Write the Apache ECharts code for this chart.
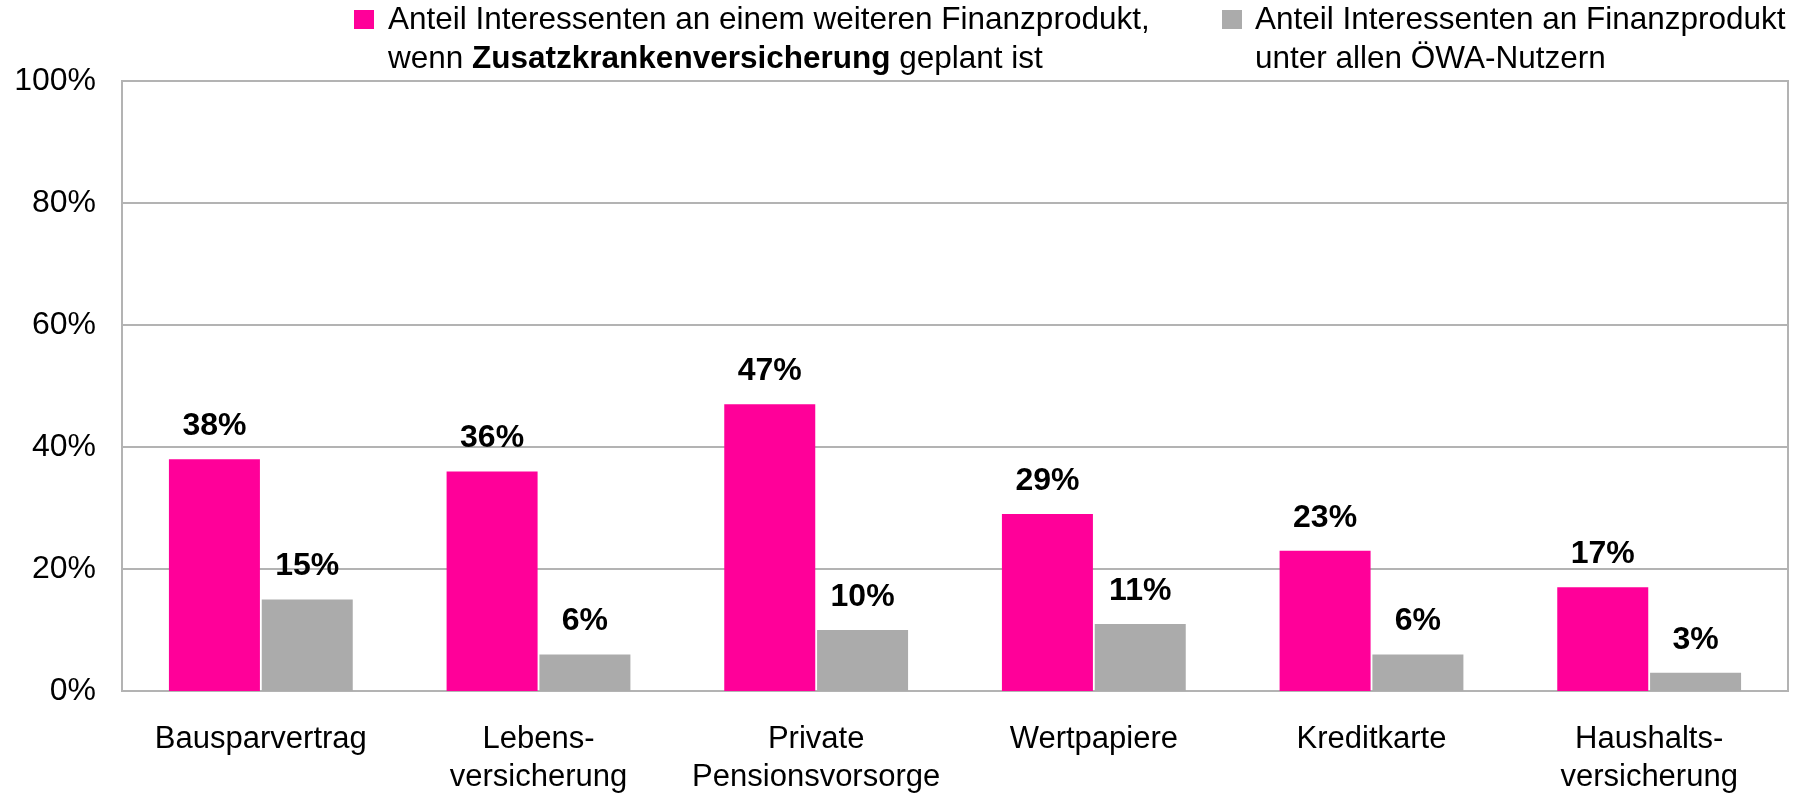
<!DOCTYPE html>
<html>
<head>
<meta charset="utf-8">
<title>Finanzprodukte</title>
<script src="https://cdn.jsdelivr.net/npm/echarts@6/dist/echarts.min.js"></script>
<style>
  html, body { margin: 0; padding: 0; background: #fff; }
  #chart { width: 1811px; height: 794px; }
</style>
</head>
<body>
<div id="chart"></div>
<script>
// Daten
const categories = ['Bausparvertrag', 'Lebens-\nversicherung', 'Private\nPensionsvorsorge', 'Wertpapiere', 'Kreditkarte', 'Haushalts-\nversicherung']
const zusatzKV = [38, 36, 47, 29, 23, 17]     // Anteil wenn Zusatzkrankenversicherung geplant
const alleNutzer = [15, 6, 10, 11, 6, 3]      // Anteil unter allen ÖWA-Nutzern
const yTicks = [0, 20, 40, 60, 80, 100]

const FONT = '"Liberation Sans", Arial, sans-serif'
const PINK = '#FF0099'
const GRAY = '#ABABAB'
const LINE = '#B3B3B3'

const chart = echarts.init(document.getElementById('chart'))

const option = {
    backgroundColor: '#fff',
    animation: false,
    textStyle: { fontFamily: FONT },
    grid: {
        left: 122, right: 23, top: 81, bottom: 103,
        outerBoundsMode: 'none', containLabel: false,
        show: true, borderColor: LINE, borderWidth: 2
    },
    // Legende als Grafik, damit das Quadrat an der ersten Zeile sitzt
    graphic: [
        { type: 'rect', left: 354, top: 10, shape: { width: 20, height: 19 }, style: { fill: PINK } },
        {
            type: 'text', left: 388, top: 1,
            style: {
                text: 'Anteil Interessenten an einem weiteren Finanzprodukt,\n{n|wenn }{b|Zusatzkrankenversicherung}{n| geplant ist}',
                font: '31.5px ' + FONT, fill: '#000', lineHeight: 39,
                rich: {
                    n: { fontSize: 31.5, fontFamily: FONT, lineHeight: 39, fill: '#000' },
                    b: { fontSize: 31.5, fontFamily: FONT, fontWeight: 'bold', lineHeight: 39, fill: '#000' }
                }
            }
        },
        { type: 'rect', left: 1222, top: 10, shape: { width: 20, height: 19 }, style: { fill: GRAY } },
        {
            type: 'text', left: 1255, top: 1,
            style: {
                text: 'Anteil Interessenten an Finanzprodukt\nunter allen ÖWA-Nutzern',
                font: '31.5px ' + FONT, fill: '#000', lineHeight: 39
            }
        }
    ],
    xAxis: {
        type: 'category',
        data: categories,
        axisTick: { show: false },
        axisLine: { lineStyle: { color: LINE, width: 2 } },
        axisLabel: {
            color: '#000', fontSize: 31, fontFamily: FONT,
            lineHeight: 38, margin: 29, interval: 0
        }
    },
    yAxis: {
        type: 'value',
        min: yTicks[0], max: yTicks[yTicks.length - 1], interval: 20,
        axisLine: { show: true, lineStyle: { color: LINE, width: 2 } },
        axisTick: { show: false },
        splitLine: { lineStyle: { color: LINE, width: 2 } },
        axisLabel: {
            color: '#000', fontSize: 32, fontFamily: FONT, margin: 26,
            formatter: '{value}%'
        }
    },
    series: [
        {
            name: 'Anteil Interessenten an einem weiteren Finanzprodukt, wenn Zusatzkrankenversicherung geplant ist',
            type: 'bar',
            data: zusatzKV,
            barWidth: 91,
            barGap: '2%',
            itemStyle: { color: PINK },
            label: {
                show: true, position: 'top', distance: 17,
                formatter: '{c}%', color: '#000',
                fontSize: 32, fontWeight: 'bold', fontFamily: FONT
            }
        },
        {
            name: 'Anteil Interessenten an Finanzprodukt unter allen ÖWA-Nutzern',
            type: 'bar',
            data: alleNutzer,
            barWidth: 91,
            itemStyle: { color: GRAY },
            label: {
                show: true, position: 'top', distance: 17,
                formatter: '{c}%', color: '#000',
                fontSize: 32, fontWeight: 'bold', fontFamily: FONT
            }
        }
    ]
}

chart.setOption(option)
window.addEventListener('resize', () => chart.resize())
</script>
</body>
</html>
